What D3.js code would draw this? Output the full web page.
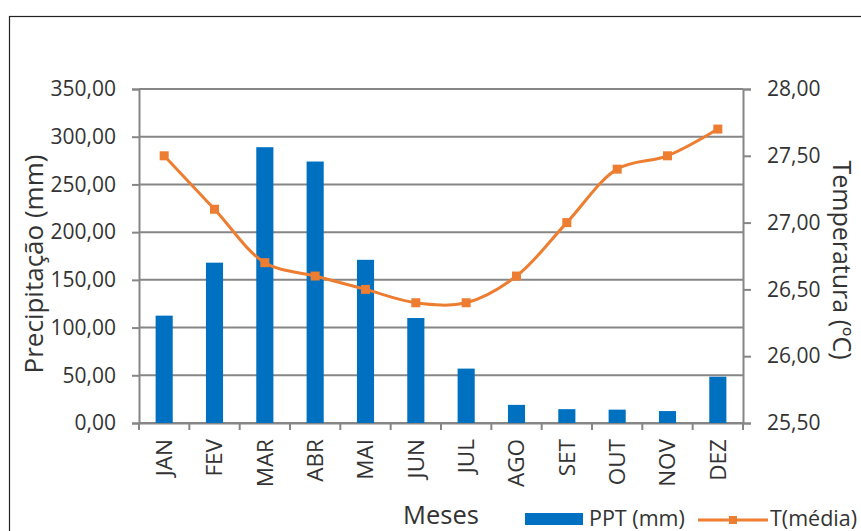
<!DOCTYPE html>
<html>
<head>
<meta charset="utf-8">
<script src="https://cdn.jsdelivr.net/npm/d3@7"></script>
<style>
  body { margin: 0; background: #fff; }
  svg text { font-family: "Open Sans", sans-serif; fill: #333; }
</style>
</head>
<body>
<div id="chart"></div>
<script>
// Data
const meses = ["JAN","FEV","MAR","ABR","MAI","JUN","JUL","AGO","SET","OUT","NOV","DEZ"];
const ppt = [112.5, 168, 289, 274, 171, 110, 57, 19, 14.5, 14, 12.5, 48.5];
const tMedia = [27.5, 27.1, 26.7, 26.6, 26.5, 26.4, 26.4, 26.6, 27.0, 27.4, 27.5, 27.7];
const leftTicks = [0, 50, 100, 150, 200, 250, 300, 350];
const rightTicks = [25.5, 26, 26.5, 27, 27.5, 28];

//Setting the dimensions and margins
const margin = {top: 89, right: 118, bottom: 108, left: 139},
    width = 861 - margin.left - margin.right,
    height = 531 - margin.top - margin.bottom;

const blue = "#0070C0", orange = "#ED7D31", grid = "#868686";

const fmt = d3.formatLocale({decimal: ",", thousands: ".", grouping: [3], currency: ["", ""]}).format(".2f");

const root = d3.select("#chart").append("svg")
    .attr("width", 861)
    .attr("height", 531);

//Outer frame
root.append("rect")
    .attr("x", 9.5).attr("y", 16.5)
    .attr("width", 900).attr("height", 600)
    .attr("fill", "none").attr("stroke", "#222").attr("stroke-width", 1.2);

const svg = root.append("g")
    .attr("transform", `translate(${margin.left},${margin.top})`);

//Scales
const x = d3.scaleBand().domain(meses).range([0, width]).paddingInner(0.66).paddingOuter(0.33);
const xBand = d3.scaleBand().domain(meses).range([0, width]);
const y = d3.scaleLinear().domain([0, 350]).range([height, 0]);
const y2 = d3.scaleLinear().domain([25.5, 28]).range([height, 0]);

//Gridlines
svg.append("g")
    .selectAll("line")
    .data(leftTicks)
    .join("line")
    .attr("x1", 0).attr("x2", width)
    .attr("y1", d => y(d)).attr("y2", d => y(d))
    .attr("stroke", grid).attr("stroke-width", 2);

//Left axis
const yAxis = svg.append("g")
    .call(d3.axisLeft(y).tickValues(leftTicks).tickFormat(fmt).tickSize(7).tickPadding(16));
yAxis.select(".domain").attr("stroke", grid).attr("stroke-width", 2);
yAxis.selectAll(".tick line").attr("stroke", grid).attr("stroke-width", 2);
yAxis.selectAll("text").style("font-size", "21px").attr("fill", "#333");

//Right axis
const y2Axis = svg.append("g")
    .attr("transform", `translate(${width},0)`)
    .call(d3.axisRight(y2).tickValues(rightTicks).tickFormat(fmt).tickSize(8).tickPadding(16));
y2Axis.select(".domain").attr("stroke", grid).attr("stroke-width", 2);
y2Axis.selectAll(".tick line").attr("stroke", grid).attr("stroke-width", 2);
y2Axis.selectAll("text").style("font-size", "21px").attr("fill", "#333");

//Bottom axis
const xAxis = svg.append("g")
    .attr("transform", `translate(0,${height})`)
    .call(d3.axisBottom(xBand).tickSize(0).tickPadding(0));
xAxis.select(".domain").attr("stroke", grid).attr("stroke-width", 2);
xAxis.selectAll("text")
    .style("font-size", "22.5px")
    .attr("fill", "#333")
    .attr("text-anchor", "end")
    .attr("dy", "0.35em")
    .attr("transform", "translate(0,16) rotate(-90)");

//Ticks between categories
svg.append("g")
    .selectAll("line")
    .data(d3.range(meses.length + 1))
    .join("line")
    .attr("x1", i => i * xBand.step()).attr("x2", i => i * xBand.step())
    .attr("y1", height).attr("y2", height + 7)
    .attr("stroke", grid).attr("stroke-width", 2);

//Bars
svg.append("g")
    .selectAll("rect")
    .data(meses)
    .join("rect")
    .attr("x", d => x(d))
    .attr("y", (d, i) => y(ppt[i]))
    .attr("width", x.bandwidth())
    .attr("height", (d, i) => height - y(ppt[i]))
    .attr("fill", blue);

//Temperature line
const line = d3.line()
    .x((d, i) => xBand(meses[i]) + xBand.bandwidth() / 2)
    .y(d => y2(d))
    .curve(d3.curveCatmullRom.alpha(0.5));
svg.append("path")
    .datum(tMedia)
    .attr("d", line)
    .attr("fill", "none")
    .attr("stroke", orange)
    .attr("stroke-width", 3);

svg.append("g")
    .selectAll("rect")
    .data(tMedia)
    .join("rect")
    .attr("x", (d, i) => xBand(meses[i]) + xBand.bandwidth() / 2 - 4.5)
    .attr("y", d => y2(d) - 4.5)
    .attr("width", 9).attr("height", 9)
    .attr("fill", orange);

//Axis titles
root.append("text")
    .attr("transform", "translate(43,264) rotate(-90)")
    .attr("text-anchor", "middle")
    .style("font-size", "26px")
    .text("Precipitação (mm)");

root.append("text")
    .attr("transform", "translate(833,260) rotate(90)")
    .attr("text-anchor", "middle")
    .style("font-size", "25px")
    .text("Temperatura  (ºC)");

root.append("text")
    .attr("x", 441).attr("y", 524)
    .attr("text-anchor", "middle")
    .style("font-size", "25.5px")
    .text("Meses");

//Legend
const legend = root.append("g");
legend.append("rect")
    .attr("x", 525).attr("y", 513)
    .attr("width", 58).attr("height", 12)
    .attr("fill", blue);
legend.append("text")
    .attr("x", 589).attr("y", 526)
    .style("font-size", "21.5px")
    .text("PPT (mm)");
legend.append("line")
    .attr("x1", 698).attr("x2", 768)
    .attr("y1", 520).attr("y2", 520)
    .attr("stroke", orange).attr("stroke-width", 3);
legend.append("rect")
    .attr("x", 729).attr("y", 516)
    .attr("width", 8).attr("height", 8)
    .attr("fill", orange);
legend.append("text")
    .attr("x", 770).attr("y", 526)
    .style("font-size", "21.5px")
    .text("T(média)");
</script>
</body>
</html>
